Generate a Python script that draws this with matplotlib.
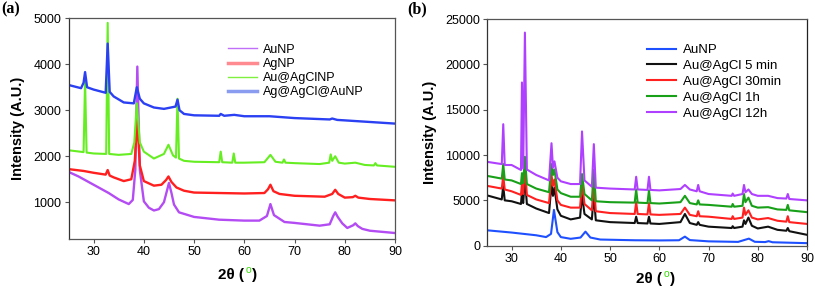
import numpy as np
import matplotlib
matplotlib.use('Agg')
import matplotlib.pyplot as plt
from matplotlib.lines import Line2D

plt.rcParams['font.family'] = ['Liberation Sans', 'DejaVu Sans']

# ---------------- panel (a) ----------------
a_aunp_x = [25, 27, 30, 33, 35, 37, 37.8, 38.3, 38.7, 39.2,
            40, 41, 42, 43, 44, 44.6, 45.0, 45.5, 46, 47,
            50, 55, 60, 63, 64.5, 65.2, 65.9, 68, 70, 75,
            77, 77.7, 78.1, 78.6, 79.5, 80.5, 81.7, 82.1, 82.6, 83.5,
            85, 90]
a_aunp_y = [1660, 1560, 1380, 1200, 1060, 960, 1050, 1700, 3950, 1700,
            1020, 880, 820, 850, 1000, 1250, 1420, 1200, 950, 780,
            680, 620, 600, 600, 700, 960, 720, 570, 550, 490,
            520, 700, 780, 680, 540, 440, 500, 540, 480, 420,
            380, 330]

a_agnp_x = [25, 28, 30, 32.4, 32.8, 33.2, 34, 36, 37.5, 38.2,
            38.7, 39.2, 40, 42, 43.5, 44.4, 44.9, 45.5, 46.5, 48,
            50, 55, 60, 64, 64.7, 65.2, 65.8, 67, 70, 76,
            77.5, 78.1, 78.7, 80, 81.6, 82.1, 82.7, 85, 90]
a_agnp_y = [1720, 1680, 1640, 1600, 1700, 1580, 1540, 1460, 1500, 1900,
            2790, 1800, 1460, 1360, 1380, 1480, 1560, 1440, 1320, 1250,
            1210, 1200, 1190, 1200, 1280, 1380, 1240, 1180, 1140, 1120,
            1180, 1270, 1180, 1100, 1110, 1140, 1100, 1070, 1040]

a_agcl_x = [25, 28.0, 28.3, 28.6, 30, 32.5, 32.8, 33.1, 35, 37.5,
            38.1, 38.6, 39.2, 40, 42, 44, 44.9, 45.8, 46.4, 46.7,
            47.0, 48, 50, 55.0, 55.3, 55.6, 57.6, 57.9, 58.2, 60,
            64, 65.2, 66.2, 67.6, 67.9, 68.2, 70, 75, 76.9, 77.2,
            77.5, 78.1, 78.8, 80, 82.1, 84, 85.8, 86.1, 86.4, 90]
a_agcl_y = [2130, 2090, 3650, 2080, 2060, 2050, 4900, 2050, 2030, 2050,
            2300, 3150, 2300, 2100, 1950, 2050, 2250, 2020, 1970, 3250,
            1950, 1900, 1880, 1870, 2100, 1870, 1860, 2060, 1860, 1860,
            1870, 2030, 1880, 1860, 1930, 1860, 1850, 1830, 1860, 2040,
            1900, 2000, 1860, 1840, 1860, 1810, 1800, 1850, 1800, 1770]

a_agagcl_x = [25, 27.5, 28.0, 28.3, 28.7, 30, 32.4, 32.8, 33.2, 34,
              36, 38.0, 38.6, 39.2, 40, 42, 44, 46.3, 46.7, 47.1,
              48, 50, 55, 55.3, 56, 58, 60, 65, 70, 77,
              77.5, 78.5, 80, 90]
a_agagcl_y = [3550, 3480, 3600, 3830, 3500, 3450, 3380, 4450, 3400, 3300,
              3170, 3150, 3500, 3250, 3150, 3060, 3030, 3080, 3230, 3000,
              2920, 2890, 2880, 2920, 2880, 2900, 2870, 2870, 2830, 2800,
              2820, 2790, 2780, 2710]

a_labels = ['AuNP', 'AgNP', 'Au@AgClNP', 'Ag@AgCl@AuNP']

# ---------------- panel (b) ----------------
b_aunp_x = [25, 30, 35, 37, 38.0, 38.6, 39.3, 40, 42, 44,
            45.0, 46, 48, 55, 60, 64, 65.2, 66.2, 70, 76,
            78.2, 79.4, 81.5, 82.2, 83, 85, 90]
b_aunp_y = [1700, 1450, 1150, 950, 1300, 3950, 1500, 950, 760, 900,
            1550, 900, 680, 600, 580, 600, 1000, 620, 480, 420,
            780, 430, 400, 500, 380, 350, 280]

b_x = [25, 28.0, 28.3, 28.6, 30, 31.9, 32.1, 32.35, 32.7, 33.1,
       35, 37.6, 38.1, 38.4, 38.7, 39.3, 40, 42, 43.9, 44.3,
       44.8, 46.3, 46.7, 47.1, 50, 55.0, 55.3, 55.6, 57.6, 57.9,
       58.2, 60, 64.3, 65.2, 66.2, 67.6, 67.9, 68.2, 70, 74.7,
       74.9, 75.2, 76.9, 77.2, 77.5, 78.1, 78.8, 80, 82.1, 84,
       85.8, 86.1, 86.4, 90]
b_5min = [5550, 5100, 6600, 5000, 4900, 4600, 5900, 4700, 7500, 4600,
          4100, 3600, 6800, 5500, 6400, 4000, 3300, 2900, 3100, 5600,
          3500, 2900, 5600, 2800, 2600, 2500, 3200, 2500, 2450, 3200,
          2450, 2400, 2600, 3500, 2500, 2300, 2600, 2300, 2100, 1950,
          2150, 1950, 2100, 2800, 2400, 3100, 2200, 1900, 2100, 1750,
          1650, 1950, 1600, 1200]
b_30min = [6600, 6300, 7700, 6200, 6000, 5600, 6900, 5700, 8800, 5600,
           5100, 4700, 7800, 6600, 7300, 5000, 4500, 4200, 4200, 6900,
           4600, 3900, 6900, 3800, 3600, 3500, 4800, 3500, 3450, 4700,
           3450, 3400, 3500, 4200, 3400, 3250, 3800, 3250, 3200, 2950,
           3250, 2950, 3100, 4200, 3400, 3900, 3100, 2900, 3050, 2750,
           2650, 3250, 2600, 2400]
b_1h = [7700, 7400, 9000, 7300, 7200, 6800, 8000, 6900, 9800, 6800,
        6300, 5900, 9000, 7800, 8400, 6200, 5800, 5400, 5400, 7900,
        5700, 5000, 8400, 4900, 4800, 4750, 6200, 4750, 4700, 6100,
        4700, 4650, 4800, 5500, 4700, 4550, 5000, 4550, 4500, 4300,
        4600, 4300, 4400, 5700, 4800, 5300, 4400, 4200, 4250, 4000,
        3950, 4500, 3900, 3700]
b_12h = [9250, 9000, 13400, 8900, 8900, 8350, 18000, 8500, 23500, 8400,
         7800, 7200, 11300, 8600, 9300, 7500, 7100, 6800, 6800, 12600,
         7200, 6500, 11200, 6400, 6300, 6200, 7600, 6200, 6150, 7600,
         6150, 6100, 6250, 6700, 6200, 6000, 6700, 6000, 5700, 5500,
         5750, 5500, 5700, 6700, 5900, 6200, 5700, 5500, 5500, 5250,
         5200, 5700, 5150, 5000]

b_labels = ['AuNP', 'Au@AgCl 5 min', 'Au@AgCl 30min', 'Au@AgCl 1h', 'Au@AgCl 12h']

W, H = 815, 292
fig = plt.figure(figsize=(W / 100, H / 100), dpi=100)

def px(x0, y0, x1, y1):
    return [x0 / W, 1 - y1 / H, (x1 - x0) / W, (y1 - y0) / H]

ax1 = fig.add_axes(px(68.5, 18.3, 395, 239))
ax2 = fig.add_axes(px(487, 19, 807, 245.7))

# colours
ca = ['#b44cf4', '#ff1f1f', '#66ee22', '#2a40f2']
cb = ['#1f50ff', '#111111', '#ff2020', '#18a018', '#b040ff']

ax1.plot(a_aunp_x, a_aunp_y, color=ca[0], lw=1.7)
ax1.plot(a_agnp_x, a_agnp_y, color=ca[1], lw=1.7)
ax1.plot(a_agcl_x, a_agcl_y, color=ca[2], lw=1.5)
ax1.plot(a_agagcl_x, a_agagcl_y, color=ca[3], lw=1.7)

ax2.plot(b_aunp_x, b_aunp_y, color=cb[0], lw=1.5)
ax2.plot(b_x, b_5min, color=cb[1], lw=1.5)
ax2.plot(b_x, b_30min, color=cb[2], lw=1.5)
ax2.plot(b_x, b_1h, color=cb[3], lw=1.5)
ax2.plot(b_x, b_12h, color=cb[4], lw=1.5)

ax1.set_xlim(25, 90)
ax1.set_ylim(200, 5000)
ax1.set_xticks(range(30, 91, 10))
ax1.set_yticks(range(1000, 5001, 1000))
ax2.set_xlim(25, 90)
ax2.set_ylim(0, 25000)
ax2.set_xticks(range(30, 91, 10))
ax2.set_yticks(range(0, 25001, 5000))

for ax in (ax1, ax2):
    for s in ax.spines.values():
        s.set_color('#555555')
        s.set_linewidth(0.9)
    ax.spines['left'].set_color('#333333')
    ax.tick_params(direction='out', length=3, width=0.8, color='#555555',
                   labelsize=9, pad=2)

ax2.spines['right'].set_color('#222222')

# legends
ha = [Line2D([], [], color='#c070f8', lw=1),
      Line2D([], [], color='#ff8a90', lw=2.5),
      Line2D([], [], color='#80f040', lw=1),
      Line2D([], [], color='#8a9cf0', lw=2.5)]
ax1.legend(ha, a_labels, loc='upper left', bbox_to_anchor=(0.49, 0.885),
           frameon=False, fontsize=9, handlelength=2.3, handletextpad=0.45,
           labelspacing=0.18, borderpad=0, borderaxespad=0)

hb = [Line2D([], [], color=c, lw=1.5) for c in cb]
ax2.legend(hb, b_labels, loc='upper left', bbox_to_anchor=(0.5, 0.89),
           frameon=False, fontsize=9.5, handlelength=2.2, handletextpad=0.5,
           labelspacing=0.28, borderpad=0, borderaxespad=0)

# axis labels
fig.text(18 / W, 1 - 128 / H, 'Intensity (A.U.)', rotation=90, ha='center',
         va='center', fontsize=10.5, fontweight='bold')
fig.text(430 / W, 1 - 132 / H, 'Intensity (A.U.)', rotation=90, ha='center',
         va='center', fontsize=10.5, fontweight='bold')

def xlab(xc, y):
    fig.text((xc - 3) / W, 1 - y / H, '2θ (', ha='right', va='center',
             fontsize=11, fontweight='bold')
    fig.text((xc + 1) / W, 1 - (y - 5) / H, 'o', ha='center', va='center',
             fontsize=7.5, color='#33dd00')
    fig.text((xc + 5) / W, 1 - y / H, ')', ha='left', va='center',
             fontsize=11, fontweight='bold')

xlab(247, 275)
xlab(665, 279)

fig.text(1 / W, 1 - 9 / H, '(a)', ha='left', va='center', fontsize=11.5,
         fontweight='bold', family='Liberation Serif')
fig.text(407 / W, 1 - 9 / H, '(b)', ha='left', va='center', fontsize=11.5,
         fontweight='bold', family='Liberation Serif')

fig.savefig('out.png', dpi=100)
